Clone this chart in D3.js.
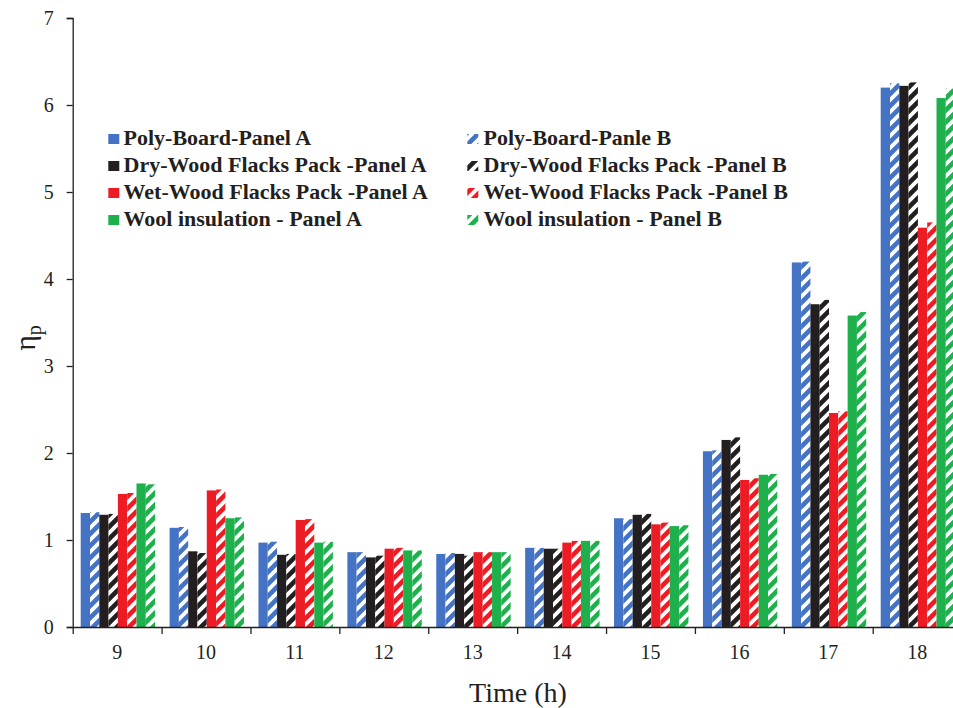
<!DOCTYPE html>
<html><head><meta charset="utf-8">
<script src="https://cdn.jsdelivr.net/npm/d3@7"></script>
<style>
html,body{margin:0;padding:0;background:#fff;overflow:hidden;}
svg{display:block;}
</style></head>
<body>
<svg id="chart" width="953" height="708"></svg>
<script>
const hours = ["9","10","11","12","13","14","15","16","17","18"];
const polyA = [1.31,1.14,0.97,0.86,0.84,0.91,1.25,2.02,4.19,6.20];
const polyB = [1.32,1.15,0.98,0.86,0.85,0.91,1.24,2.03,4.20,6.25];
const dryA  = [1.29,0.87,0.83,0.80,0.84,0.90,1.29,2.15,3.71,6.22];
const dryB  = [1.30,0.85,0.84,0.82,0.82,0.90,1.30,2.18,3.76,6.26];
const wetA  = [1.53,1.57,1.23,0.90,0.86,0.97,1.18,1.69,2.46,4.59];
const wetB  = [1.54,1.58,1.24,0.91,0.86,0.99,1.20,1.71,2.48,4.65];
const woolA = [1.65,1.25,0.97,0.88,0.86,0.99,1.16,1.75,3.58,6.08];
const woolB = [1.64,1.26,0.98,0.88,0.86,0.99,1.17,1.76,3.62,6.19];
const seriesNames = ["Poly-Board-Panel A","Poly-Board-Panle B",
  "Dry-Wood Flacks Pack -Panel A","Dry-Wood Flacks Pack -Panel B",
  "Wet-Wood Flacks Pack -Panel A","Wet-Wood Flacks Pack -Panel B",
  "Wool insulation - Panel A","Wool insulation - Panel B"];
const seriesValues = [polyA,polyB,dryA,dryB,wetA,wetB,woolA,woolB];
const seriesColors = ["#4472C4","#4472C4","#231F20","#231F20","#ED1C24","#ED1C24","#1DB04B","#1DB04B"];
const seriesHatched = [false,true,false,true,false,true,false,true];
const yTicks = [0,1,2,3,4,5,6,7];

const svg = d3.select("#chart");
const textColor = "#231F20";
const serif = "'Liberation Serif','Times New Roman',serif";

const x0 = 72.7, x1 = 961.6, yTop = 18, yBot = 627;
const x = d3.scaleBand().domain(hours).range([x0, x1]);
const xi = d3.scaleBand().domain(d3.range(8)).range([8, 82.4]);
const y = d3.scaleLinear().domain([0,7]).range([yBot, yTop]);

// hatch patterns
const P = 12;
const defs = svg.append("defs");
seriesColors.forEach((c,i)=>{
  if(!seriesHatched[i]) return;
  const p = defs.append("pattern").attr("id","hatch"+i)
    .attr("patternUnits","userSpaceOnUse").attr("width",P).attr("height",P);
  p.append("rect").attr("width",P).attr("height",P).attr("fill","#fff");
  p.append("path").attr("d",`M-3,3 L3,-3 M0,${P} L${P},0 M${P-3},${P+3} L${P+3},${P-3}`)
    .attr("stroke",c).attr("stroke-width",4.6).attr("fill","none");
});

// bars
const rows = [];
hours.forEach((h,hi)=>{
  seriesValues.forEach((arr,si)=>rows.push({h, si, v: arr[hi]}));
});
svg.append("g").selectAll("rect").data(rows).join("rect")
  .attr("x", d => x(d.h) + xi(d.si))
  .attr("y", d => y(d.v))
  .attr("width", xi.bandwidth())
  .attr("height", d => y(0) - y(d.v))
  .attr("fill", d => seriesHatched[d.si] ? `url(#hatch${d.si})` : seriesColors[d.si]);

// y axis
const yAxis = svg.append("g").attr("transform",`translate(${x0},0)`)
  .call(d3.axisLeft(y).tickValues(yTicks).tickFormat(d3.format("d")).tickSize(6).tickPadding(13));
yAxis.selectAll("text").attr("font-family",serif).attr("font-size",20).attr("fill",textColor);
yAxis.selectAll("line,path").attr("stroke",textColor).attr("stroke-width",1.3);

// x axis boundary ticks
const xb = d3.scaleLinear().domain([0,hours.length]).range([x0,x1]);
const xAxisB = svg.append("g").attr("transform",`translate(0,${yBot})`)
  .call(d3.axisBottom(xb).tickValues(d3.range(hours.length+1)).tickFormat("").tickSize(7).tickSizeOuter(0));
xAxisB.selectAll("line,path").attr("stroke",textColor).attr("stroke-width",1.3);

// x labels
const xAxisL = svg.append("g").attr("transform",`translate(0,${yBot})`)
  .call(d3.axisBottom(x).tickSize(0).tickPadding(18));
xAxisL.select(".domain").remove();
xAxisL.selectAll("text").attr("font-family",serif).attr("font-size",20).attr("fill",textColor);

// axis titles
svg.append("text").attr("x",518).attr("y",702).attr("text-anchor","middle")
  .attr("font-family",serif).attr("font-size",28).attr("fill",textColor).text("Time (h)");
const yl = svg.append("text").attr("transform","translate(35,338) rotate(-90)")
  .attr("text-anchor","middle").attr("font-family",serif).attr("font-size",30).attr("fill",textColor);
yl.append("tspan").text("η");
yl.append("tspan").attr("font-size",20).attr("dy",6).text("p");

// legend
const legendCols = [{mx:108.3, tx:123.5},{mx:467.3, tx:483.5}];
const legendRows = [145,172,199,226];
seriesNames.forEach((name,i)=>{
  const col = legendCols[i%2], rowY = legendRows[Math.floor(i/2)];
  svg.append("rect").attr("x",col.mx).attr("y",rowY-11).attr("width",11).attr("height",10)
    .attr("fill", seriesHatched[i] ? `url(#hatch${i})` : seriesColors[i]);
  svg.append("text").attr("x",col.tx).attr("y",rowY)
    .attr("font-family",serif).attr("font-weight","bold").attr("font-size",22)
    .attr("fill",textColor).text(name);
});
</script>
</body></html>
